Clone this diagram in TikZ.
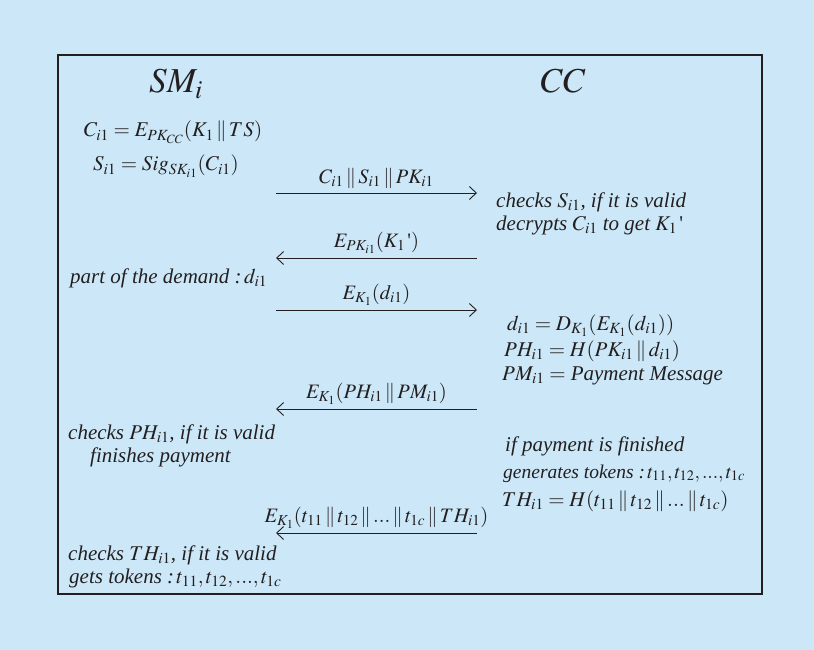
\documentclass[tikz,border=0pt]{standalone}
\usepackage{mathptmx}
\usepackage{fontspec}
\setmainfont{Liberation Serif}
\usetikzlibrary{arrows.meta}
\definecolor{panel}{RGB}{204,232,248}
\definecolor{ink}{RGB}{35,31,32}
\newcommand{\tick}{\mbox{\upshape\textquotesingle}}

\begin{document}
\begin{tikzpicture}[
x=1pt, y=-1pt,
every node/.style={inner sep=0pt, text=ink},
line/.style={anchor=base west, font=\fontsize{21}{25}\selectfont\itshape},
eqn/.style={anchor=base, font=\fontsize{21}{25}\selectfont},
party/.style={anchor=base, font=\fontsize{35}{40}\selectfont},
msg/.style={draw=ink, line width=0.9pt, -{Straight Barb[length=7pt,width=13pt]}},
lbl/.style={midway, above=4pt, font=\fontsize{20.5}{25}\selectfont}
]
  \fill[panel] (0,0) rectangle (814,650);
  \draw[ink, line width=1.6pt] (58,55) rectangle (762,594);

  \node[party] (sm) at (176,93) {$SM_i$};
  \node[party] (cc) at (563,93) {$CC$};

  % ends of the five messages
  \foreach \y [count=\k] in {193,258,310,409,533} {
    \coordinate (a\k) at (276,\y);
    \coordinate (b\k) at (477,\y);
  }

  \draw[msg] (a1) -- (b1) node[lbl] (m1) {$C_{i1} \,\|\, S_{i1} \,\|\, PK_{i1}$};
  \draw[msg] (b2) -- (a2) node[lbl] (m2) {$E_{PK_{i1}}(K_1\,\tick)$};
  \draw[msg] (a3) -- (b3) node[lbl] (m3) {$E_{K_1}(d_{i1})$};
  \draw[msg] (b4) -- (a4) node[lbl] (m4) {$E_{K_1}(PH_{i1} \,\|\, PM_{i1})$};
  \draw[msg] (b5) -- (a5) node[lbl] (m5) {$E_{K_1}(t_{11} \,\|\, t_{12} \,\|\, {...} \,\|\, t_{1c} \,\|\, TH_{i1})$};

  % smart meter side
  \node[eqn] (c1) at (173,137) {$C_{i1} = E_{PK_{CC}}(K_1 \,\|\, TS)$};
  \node[eqn] (s1) at (166,171) {$S_{i1} = Sig_{SK_{i1}}(C_{i1})$};
  \node[line] (dem) at (70,283) {part of the demand :$\,d_{i1}$};
  \node[line] (chk2) at (68,439) {checks $PH_{i1}$, if it is valid};
  \node[line] (fin) at (90,462) {finishes payment};
  \node[line] (chk3) at (68,560) {checks $TH_{i1}$, if it is valid};
  \node[line] (gets) at (69,583) {gets tokens :$\,t_{11}, t_{12}, {...}, t_{1c}$};

  % control center side
  \node[line] (chk1) at (496,207) {checks $S_{i1}$, if it is valid};
  \node[line] (dec) at (496,230) {decrypts $C_{i1}$ to get $K_1\,\tick$};
  \node[line] (dd) at (507,330) {$d_{i1} = D_{K_1}(E_{K_1}(d_{i1}))$};
  \node[line] (ph) at (504,356) {$PH_{i1} = H(PK_{i1} \,\|\, d_{i1})$};
  \node[line] (pm) at (502,380) {$PM_{i1} =$ Payment Message};
  \node[line] (pay) at (505,451) {if payment is finished};
  \node[line, font=\fontsize{19.5}{25}\selectfont\itshape] (gen) at (503,478) {generates tokens :$\,t_{11}, t_{12}, {...}, t_{1c}$};
  \node[line] (th) at (502,506) {$TH_{i1} = H(t_{11} \,\|\, t_{12} \,\|\, {...} \,\|\, t_{1c})$};
\end{tikzpicture}
\end{document}
